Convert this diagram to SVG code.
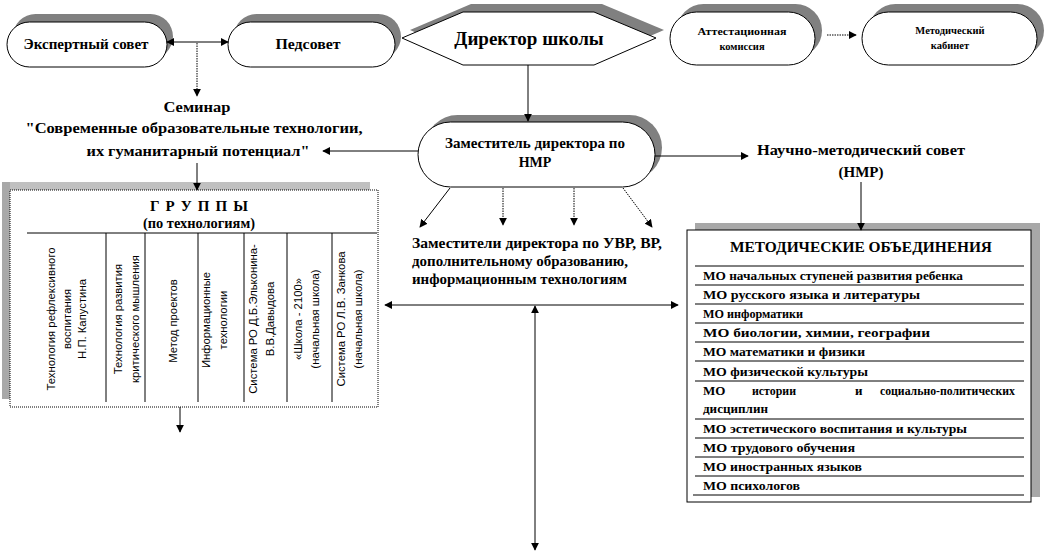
<svg xmlns="http://www.w3.org/2000/svg" width="1047" height="555" viewBox="0 0 1047 555">
<style>
.bg{fill:#fff}
.pill{fill:#fff;stroke:#000;stroke-width:1}
.shd{fill:#808080;stroke:none}
.hat{fill:#a8a8a8;stroke:none}
.t{font-family:"Liberation Serif","Times New Roman",serif;font-weight:bold;fill:#000}
.v{font-family:"Liberation Sans",Arial,sans-serif;font-size:11.3px;fill:#000}
.c{stroke:#000;stroke-width:1;fill:none}
.d{stroke:#000;stroke-width:1;fill:none;stroke-dasharray:1.5,1}
.rl{stroke:#000;stroke-width:1}
</style>
<defs>
<marker id="ah" viewBox="0 0 10 10" refX="9" refY="5" markerWidth="8" markerHeight="8" markerUnits="userSpaceOnUse" orient="auto-start-reverse">
<path d="M0,0 L10,5 L0,10 Z" fill="#000"/>
</marker>
</defs>
<rect class="bg" x="0" y="0" width="1047" height="555"/>

<g id="expert">
<rect class="shd" x="13" y="14" width="160" height="45" rx="22.5"/>
<rect class="pill" x="7" y="22" width="160" height="45" rx="22.5"/>
<text class="t" x="86" y="49" font-size="15" text-anchor="middle" textLength="125" lengthAdjust="spacingAndGlyphs">Экспертный совет</text>
</g>

<g id="pedsovet">
<rect class="shd" x="234" y="14" width="167" height="45" rx="22.5"/>
<rect class="pill" x="228" y="22" width="167" height="45" rx="22.5"/>
<text class="t" x="308" y="49" font-size="15" text-anchor="middle" textLength="65" lengthAdjust="spacingAndGlyphs">Педсовет</text>
</g>

<g id="director">
<polygon class="shd" points="410,30 471,4 602,4 664,30 602,57 471,57"/>
<polygon class="pill" points="402,38 463,12 594,12 656,38 594,65 463,65"/>
<text class="t" x="529" y="45" font-size="19" text-anchor="middle">Директор школы</text>
</g>

<g id="attestation">
<rect class="shd" x="677" y="4" width="145" height="53" rx="26.5"/>
<rect class="pill" x="670" y="12" width="145" height="53" rx="26.5"/>
<text class="t" x="742" y="35" font-size="10.5" text-anchor="middle" textLength="89" lengthAdjust="spacingAndGlyphs">Аттестационная</text>
<text class="t" x="742" y="50" font-size="10.5" text-anchor="middle">комиссия</text>
</g>

<g id="cabinet">
<rect class="shd" x="869" y="4" width="175" height="53" rx="26.5"/>
<rect class="pill" x="862" y="12" width="175" height="53" rx="26.5"/>
<text class="t" x="950" y="34" font-size="10.5" text-anchor="middle">Методический</text>
<text class="t" x="950" y="49" font-size="10.5" text-anchor="middle">кабинет</text>
</g>

<g id="seminar">
<text class="t" x="197" y="112" font-size="15" text-anchor="middle" textLength="67" lengthAdjust="spacingAndGlyphs">Семинар</text>
<text class="t" x="194" y="133" font-size="15" text-anchor="middle" textLength="337" lengthAdjust="spacingAndGlyphs">"Современные образовательные технологии,</text>
<text class="t" x="198" y="156" font-size="15" text-anchor="middle" textLength="223" lengthAdjust="spacingAndGlyphs">их гуманитарный  потенциал"</text>
</g>

<g id="deputy-nmr">
<rect class="shd" x="425" y="115" width="237" height="65" rx="32.5"/>
<rect class="pill" x="418" y="122" width="237" height="65" rx="32.5"/>
<text class="t" x="535" y="148" font-size="14" text-anchor="middle" textLength="180" lengthAdjust="spacingAndGlyphs">Заместитель директора по</text>
<text class="t" x="535" y="167" font-size="14" text-anchor="middle">НМР</text>
</g>

<g id="nms">
<text class="t" x="861" y="155" font-size="15" text-anchor="middle" textLength="208" lengthAdjust="spacingAndGlyphs">Научно-методический совет</text>
<text class="t" x="861" y="177" font-size="15" text-anchor="middle">(НМР)</text>
</g>

<g id="deputies">
<text class="t" x="412" y="248" font-size="15" textLength="250" lengthAdjust="spacingAndGlyphs">Заместители директора по УВР, ВР,</text>
<text class="t" x="412" y="266" font-size="15" textLength="216" lengthAdjust="spacingAndGlyphs">дополнительному образованию,</text>
<text class="t" x="412" y="284" font-size="15" textLength="215" lengthAdjust="spacingAndGlyphs">информационным технологиям</text>
</g>

<g id="groups">
<rect x="2" y="182" width="368" height="9" fill="#c0c0c0"/>
<rect class="hat" x="2" y="182" width="8" height="217"/>
<rect x="10" y="190" width="368" height="217" fill="#fff" stroke="#000" stroke-width="1" stroke-dasharray="1,1"/>
<text class="t" x="199" y="211" font-size="15" text-anchor="middle" textLength="98" lengthAdjust="spacing">Г Р У П П Ы</text>
<text class="t" x="199" y="228" font-size="14" text-anchor="middle" textLength="112" lengthAdjust="spacingAndGlyphs">(по технологиям)</text>
<line class="rl" x1="27" y1="233" x2="377" y2="233"/>
<line class="rl" x1="106" y1="233" x2="106" y2="402"/>
<line class="rl" x1="145" y1="233" x2="145" y2="402"/>
<line class="rl" x1="198" y1="233" x2="198" y2="402"/>
<line class="rl" x1="244" y1="233" x2="244" y2="402"/>
<line class="rl" x1="287" y1="233" x2="287" y2="402"/>
<line class="rl" x1="332" y1="233" x2="332" y2="402"/>
<g class="v" text-anchor="middle" dominant-baseline="central">
<text transform="translate(51,319) rotate(-90)">Технология рефлексивного</text>
<text transform="translate(67,319) rotate(-90)">воспитания</text>
<text transform="translate(82,319) rotate(-90)">Н.П. Капустина</text>
<text transform="translate(118,319) rotate(-90)">Технология развития</text>
<text transform="translate(135,319) rotate(-90)">критического мышления</text>
<text transform="translate(173,321) rotate(-90)">Метод  проектов</text>
<text transform="translate(206,320) rotate(-90)">Информационные</text>
<text transform="translate(223,320) rotate(-90)">технологии</text>
<text transform="translate(253,319) rotate(-90)">Система РО Д.Б.Эльконина-</text>
<text transform="translate(270,319) rotate(-90)">В.В.Давыдова</text>
<text transform="translate(298,319) rotate(-90)">«Школа - 2100»</text>
<text transform="translate(315,319) rotate(-90)">(начальная школа)</text>
<text transform="translate(341,319) rotate(-90)">Система РО Л.В. Занкова</text>
<text transform="translate(358,319) rotate(-90)">(начальная школа)</text>
</g>
</g>

<g id="mo">
<rect class="hat" x="695" y="223" width="345" height="8"/>
<rect class="hat" x="1031" y="223" width="9" height="274"/>
<rect x="687" y="230" width="344" height="272" fill="#fff" stroke="#000" stroke-width="1"/>
<text class="t" x="861" y="252" font-size="15" text-anchor="middle" textLength="262" lengthAdjust="spacingAndGlyphs">МЕТОДИЧЕСКИЕ  ОБЪЕДИНЕНИЯ</text>
<g class="rl">
<line x1="695" y1="266" x2="1024" y2="266"/>
<line x1="695" y1="285" x2="1024" y2="285"/>
<line x1="695" y1="304" x2="1024" y2="304"/>
<line x1="695" y1="323" x2="1024" y2="323"/>
<line x1="695" y1="342" x2="1024" y2="342"/>
<line x1="695" y1="361" x2="1024" y2="361"/>
<line x1="695" y1="381" x2="1024" y2="381"/>
<line x1="695" y1="419" x2="1024" y2="419"/>
<line x1="695" y1="438" x2="1024" y2="438"/>
<line x1="695" y1="457" x2="1024" y2="457"/>
<line x1="695" y1="476" x2="1024" y2="476"/>
<line x1="693" y1="495" x2="1024" y2="495"/>
</g>
<g class="t" font-size="13">
<text x="703" y="280" textLength="260" lengthAdjust="spacingAndGlyphs">МО начальных ступеней развития ребенка</text>
<text x="703" y="299" textLength="217" lengthAdjust="spacingAndGlyphs">МО русского  языка и литературы</text>
<text x="703" y="318" textLength="100" lengthAdjust="spacingAndGlyphs">МО информатики</text>
<text x="703" y="337" textLength="227" lengthAdjust="spacingAndGlyphs">МО биологии,  химии,  географии</text>
<text x="703" y="356" textLength="162" lengthAdjust="spacingAndGlyphs">МО математики и физики</text>
<text x="703" y="376" textLength="165" lengthAdjust="spacingAndGlyphs">МО физической  культуры</text>
<text x="703" y="395">МО</text>
<text x="752" y="395" textLength="44" lengthAdjust="spacingAndGlyphs">истории</text>
<text x="855" y="395">и</text>
<text x="880" y="395" textLength="135" lengthAdjust="spacingAndGlyphs">социально-политических</text>
<text x="703" y="413" textLength="65" lengthAdjust="spacingAndGlyphs">дисциплин</text>
<text x="703" y="433" textLength="264" lengthAdjust="spacingAndGlyphs">МО эстетического воспитания и культуры</text>
<text x="703" y="452" textLength="152" lengthAdjust="spacingAndGlyphs">МО трудового обучения</text>
<text x="703" y="471" textLength="159" lengthAdjust="spacingAndGlyphs">МО иностранных  языков</text>
<text x="703" y="490" textLength="97" lengthAdjust="spacingAndGlyphs">МО психологов</text>
</g>
</g>

<g id="connectors">
<line class="c" x1="167" y1="42" x2="228" y2="42" marker-start="url(#ah)" marker-end="url(#ah)"/>
<line class="d" x1="197" y1="43" x2="197" y2="96" marker-end="url(#ah)"/>
<line class="c" x1="528" y1="65" x2="528" y2="121" marker-end="url(#ah)"/>
<line class="d" x1="827" y1="35" x2="856" y2="35" marker-end="url(#ah)"/>
<line class="c" x1="418" y1="151" x2="323" y2="151" marker-end="url(#ah)"/>
<line class="c" x1="197" y1="163" x2="197" y2="190" marker-end="url(#ah)"/>
<line class="c" x1="655" y1="156" x2="748" y2="156" marker-end="url(#ah)"/>
<line class="c" x1="861" y1="182" x2="861" y2="230" marker-end="url(#ah)"/>
<line class="c" x1="450" y1="188" x2="420" y2="227" marker-end="url(#ah)"/>
<line class="d" x1="503" y1="188" x2="503" y2="225" marker-end="url(#ah)"/>
<line class="d" x1="574" y1="188" x2="574" y2="225" marker-end="url(#ah)"/>
<line class="d" x1="623" y1="188" x2="652" y2="227" marker-end="url(#ah)"/>
<line class="c" x1="385" y1="305" x2="678" y2="305" stroke="#333" marker-start="url(#ah)" marker-end="url(#ah)"/>
<line class="c" x1="535" y1="306" x2="535" y2="550" stroke-width="1.3" marker-start="url(#ah)" marker-end="url(#ah)"/>
<line class="c" x1="180" y1="407" x2="180" y2="432" marker-end="url(#ah)"/>
</g>
</svg>
